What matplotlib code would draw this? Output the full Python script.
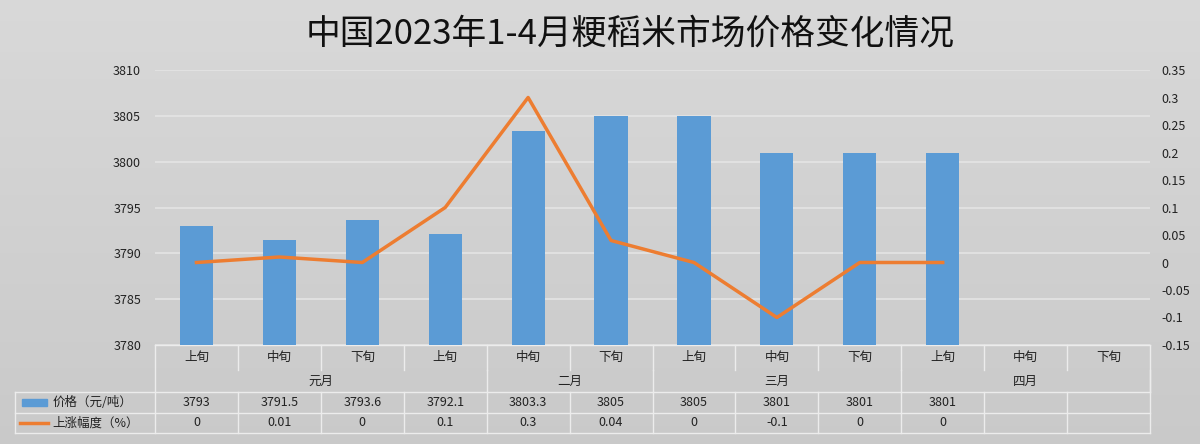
import matplotlib.pyplot as plt
import numpy as np

plt.rcParams['font.family'] = ['Noto Sans CJK SC', 'DejaVu Sans']

title = '中国2023年1-4月粳稻米市场价格变化情况'
periods = ['上旬', '中旬', '下旬', '上旬', '中旬', '下旬', '上旬', '中旬', '下旬', '上旬', '中旬', '下旬']
months = ['元月', '二月', '三月', '四月']
month_spans = [4, 2, 3, 3]
price = [3793, 3791.5, 3793.6, 3792.1, 3803.3, 3805, 3805, 3801, 3801, 3801]
change = [0, 0.01, 0, 0.1, 0.3, 0.04, 0, -0.1, 0, 0]
price_labels = ['3793', '3791.5', '3793.6', '3792.1', '3803.3', '3805', '3805', '3801', '3801', '3801']
change_labels = ['0', '0.01', '0', '0.1', '0.3', '0.04', '0', '-0.1', '0', '0']

blue = '#5b9bd5'
orange = '#ed7d31'
grid_c = '#e4e4e4'
txt = '#222222'

fig = plt.figure(figsize=(12, 4.44), dpi=100)

# background gradient
bg = fig.add_axes([0, 0, 1, 1], zorder=-10)
grad = np.linspace(0.85, 0.79, 100).reshape(-1, 1)
bg.imshow(np.dstack([grad, grad, grad]), aspect='auto', extent=[0, 1, 0, 1])
bg.axis('off')

W, H = 1200, 444
x0, x1, y0, y1 = 155, 1150, 70, 345
ax = fig.add_axes([x0 / W, 1 - y1 / H, (x1 - x0) / W, (y1 - y0) / H])
ax.patch.set_alpha(0)
ax2 = ax.twinx()

x = np.arange(len(price))
ax.bar(x, np.array(price) - 3780, bottom=3780, width=0.4, color=blue, zorder=3)
ax.set_xlim(-0.5, 11.5)
ax.set_ylim(3780, 3810)
ax.set_yticks(np.arange(3780, 3811, 5))
ax.grid(axis='y', color=grid_c, lw=1.2, zorder=0)
ax.set_xticks([])
for s in ax.spines.values():
    s.set_visible(False)
ax.tick_params(axis='y', length=0, labelsize=9, labelcolor=txt, pad=10)

ax2.plot(x, change, color=orange, lw=2.5, zorder=4)
ax2.set_ylim(-0.15, 0.35)
rt = np.round(np.arange(-0.15, 0.351, 0.05), 2)
ax2.set_yticks(rt)
ax2.set_yticklabels(['%g' % v for v in rt])
for s in ax2.spines.values():
    s.set_visible(False)
ax2.tick_params(axis='y', length=0, labelsize=9, labelcolor=txt, pad=8)

fig.text(0.525, 1 - 34 / H, title, ha='center', va='center', fontsize=25, color='#111111')

# table below axes
tr = ax.get_xaxis_transform()
ph = y1 - y0
rows = [345, 370, 392, 413, 433]
ry = [(y1 - r) / ph for r in rows]
lc = '#ececec'
left = -0.5 - (x0 - 15) / ((x1 - x0) / 12)

def hline(y, xa, xb):
    ax.plot([xa, xb], [y, y], transform=tr, color=lc, lw=1, clip_on=False)

def vline(xx, ya, yb):
    ax.plot([xx, xx], [ya, yb], transform=tr, color=lc, lw=1, clip_on=False)

hline(ry[0], -0.5, 11.5)
for r in ry[2:]:
    hline(r, left, 11.5)
vline(left, ry[2], ry[4])
vline(-0.5, ry[0], ry[4])
vline(11.5, ry[0], ry[4])
for i in range(1, 12):
    vline(i - 0.5, ry[0], ry[1])
    vline(i - 0.5, ry[2], ry[4])
b = -0.5
for m, sp in zip(months, month_spans):
    ax.text(b + sp / 2, (ry[1] + ry[2]) / 2, m, transform=tr, ha='center', va='center', fontsize=9, color=txt)
    b += sp
    vline(b, ry[1], ry[2])
for i, p in enumerate(periods):
    ax.text(i, (ry[0] + ry[1]) / 2, p, transform=tr, ha='center', va='center', fontsize=9, color=txt)
for i, (p, c) in enumerate(zip(price_labels, change_labels)):
    ax.text(i, (ry[2] + ry[3]) / 2, p, transform=tr, ha='center', va='center', fontsize=9, color=txt)
    ax.text(i, (ry[3] + ry[4]) / 2, c, transform=tr, ha='center', va='center', fontsize=9, color=txt)

ym = (ry[2] + ry[3]) / 2
ax.add_patch(plt.Rectangle((left + 0.08, ym - 0.014), 0.3, 0.028, transform=tr, color=blue, clip_on=False))
ax.text(left + 0.45, ym, '价格（元/吨）', transform=tr, ha='left', va='center', fontsize=9, color=txt)
ym = (ry[3] + ry[4]) / 2
ax.plot([left + 0.06, left + 0.4], [ym, ym], transform=tr, color=orange, lw=2.5, clip_on=False)
ax.text(left + 0.45, ym, '上涨幅度（%）', transform=tr, ha='left', va='center', fontsize=9, color=txt)

fig.savefig('out.png', dpi=100)
